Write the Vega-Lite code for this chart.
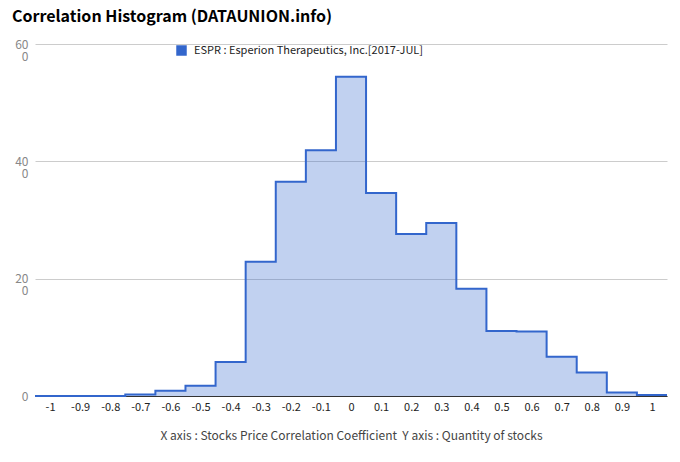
{
  "$schema": "https://vega.github.io/schema/vega-lite/v6.json",
  "autosize": {"type": "none"},
  "width": 632,
  "height": 352,
  "padding": {"left": 35, "top": 44, "right": 13, "bottom": 66},
  "background": "white",
  "config": {
    "font": "Noto Sans CJK KR",
    "view": {"stroke": null}
  },
  "title": {
    "text": "Correlation Histogram (DATAUNION.info)",
    "anchor": "start",
    "frame": "group",
    "dx": -23,
    "offset": 13,
    "fontSize": 16,
    "fontWeight": "bold",
    "color": "#000000"
  },
  "data": {
    "values": [
      {"x": -1.05, "n": 0},
      {"x": -0.95, "n": 0},
      {"x": -0.85, "n": 0},
      {"x": -0.75, "n": 0.25},
      {"x": -0.65, "n": 0.9},
      {"x": -0.55, "n": 1.75},
      {"x": -0.45, "n": 5.8},
      {"x": -0.35, "n": 22.9},
      {"x": -0.25, "n": 36.5},
      {"x": -0.15, "n": 41.9},
      {"x": -0.05, "n": 54.4},
      {"x": 0.05, "n": 34.6},
      {"x": 0.15, "n": 27.6},
      {"x": 0.25, "n": 29.5},
      {"x": 0.35, "n": 18.3},
      {"x": 0.45, "n": 11.1},
      {"x": 0.55, "n": 11.0},
      {"x": 0.65, "n": 6.7},
      {"x": 0.75, "n": 4.0},
      {"x": 0.85, "n": 0.6},
      {"x": 0.95, "n": 0.15},
      {"x": 1.05, "n": 0.15}
    ]
  },
  "encoding": {
    "x": {
      "field": "x",
      "type": "quantitative",
      "scale": {"domain": [-1.05, 1.05], "nice": false, "zero": false},
      "axis": {
        "values": [-1, -0.9, -0.8, -0.7, -0.6, -0.5, -0.4, -0.3, -0.2, -0.1, 0, 0.1, 0.2, 0.3, 0.4, 0.5, 0.6, 0.7, 0.8, 0.9, 1],
        "format": ".1~f",
        "labelExpr": "replace(datum.label, '\u2212', '-')",
        "grid": false,
        "ticks": false,
        "domain": true,
        "domainColor": "#333333",
        "labelColor": "#222222",
        "labelFontSize": 11,
        "labelPadding": 5,
        "labelFlush": false,
        "labelOverlap": false,
        "title": "X axis : Stocks Price Correlation Coefficient\u00a0 Y axis : Quantity of stocks",
        "titleFontSize": 12,
        "titleFontWeight": "normal",
        "titleColor": "#444444",
        "titlePadding": 18
      }
    },
    "y": {
      "field": "n",
      "type": "quantitative",
      "scale": {"domain": [0, 60], "nice": false},
      "axis": {
        "values": [0, 20, 40, 60],
        "labelExpr": "datum.value == 0 ? '0' : [datum.label, '0']",
        "labelLineHeight": 12,
        "grid": true,
        "gridColor": "#cccccc",
        "ticks": false,
        "domain": false,
        "labelColor": "#888888",
        "labelFontSize": 12,
        "labelPadding": 7,
        "title": null
      }
    },
    "color": {
      "datum": "ESPR : Esperion Therapeutics, Inc.[2017-JUL]",
      "type": "nominal",
      "scale": {"range": ["#3366cc"]},
      "legend": {
        "orient": "none",
        "legendX": 141,
        "legendY": 1,
        "title": null,
        "symbolType": "square",
        "symbolSize": 110,
        "symbolOpacity": 1,
        "symbolStrokeWidth": 0,
        "labelFontSize": 11,
        "labelColor": "#222222",
        "labelOffset": 7,
        "labelLimit": 400
      }
    }
  },
  "layer": [
    {
      "mark": {"type": "area", "interpolate": "step-after", "opacity": 0.3}
    },
    {
      "mark": {"type": "line", "interpolate": "step-after", "strokeWidth": 2}
    }
  ]
}
